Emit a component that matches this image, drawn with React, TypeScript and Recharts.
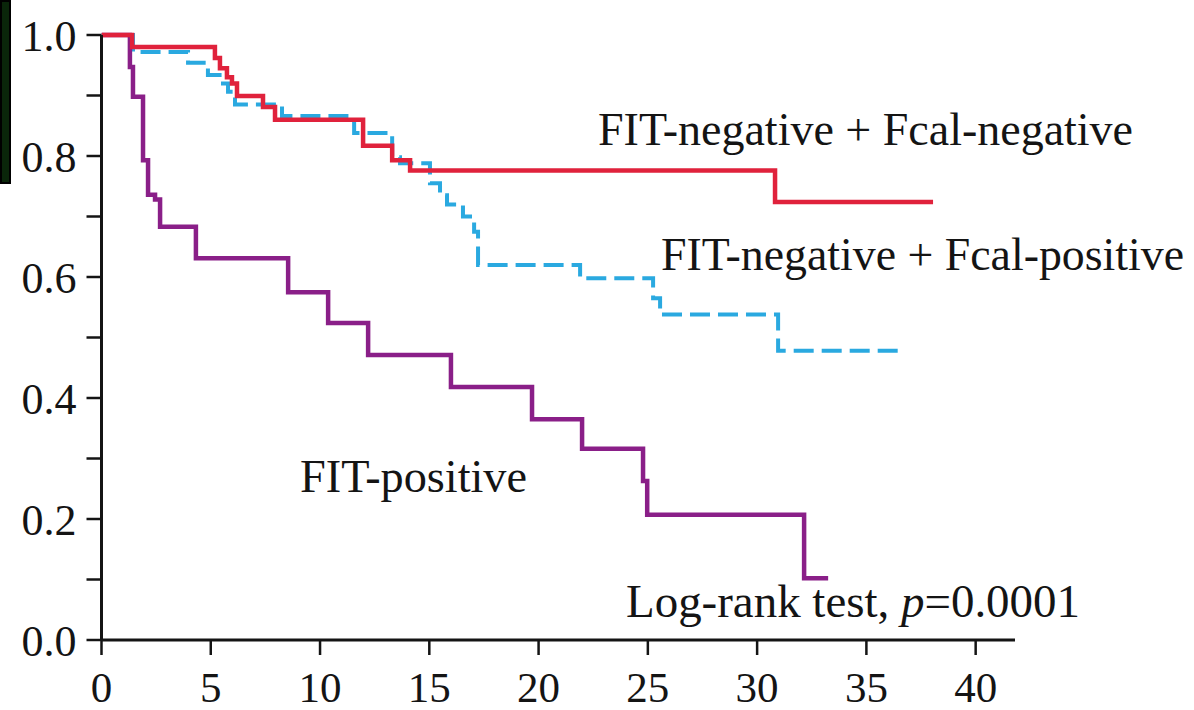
import React from "react";
import { LineChart, Line, XAxis, YAxis, Customized } from "recharts";

// Follow-up time (months) at which each survival step begins, and the survival from that point on
const negNegTimes = [0, 1.4, 5.19, 5.42, 5.74, 5.97, 6.2, 7.39, 7.94, 11.97, 13.3, 14.12, 30.82, 38.05];
const negNegSurv = [1.0, 0.98, 0.962, 0.945, 0.93, 0.92, 0.899, 0.881, 0.86, 0.817, 0.793, 0.776, 0.724, 0.724];

const negPosTimes = [0, 1.44, 3.96, 4.87, 5.56, 5.79, 6.11, 8.26, 11.56, 13.3, 13.66, 15.03, 15.49, 15.81, 16.54, 17.05, 17.23, 21.9, 25.24, 25.56, 30.96, 36.64];
const negPosSurv = [1.0, 0.972, 0.954, 0.934, 0.92, 0.906, 0.885, 0.866, 0.838, 0.798, 0.788, 0.755, 0.735, 0.72, 0.7, 0.675, 0.62, 0.598, 0.565, 0.538, 0.478, 0.478];

const fitPosTimes = [0, 1.3, 1.44, 1.9, 2.13, 2.45, 2.68, 4.32, 8.54, 10.37, 12.2, 15.99, 19.7, 21.99, 24.78, 24.97, 32.15, 33.25];
const fitPosSurv = [1.0, 0.947, 0.898, 0.793, 0.736, 0.728, 0.683, 0.631, 0.575, 0.524, 0.471, 0.418, 0.365, 0.316, 0.263, 0.207, 0.102, 0.102];

const xTicks = [0, 5, 10, 15, 20, 25, 30, 35, 40];
const yTicks = [0, 0.1, 0.2, 0.3, 0.4, 0.5, 0.6, 0.7, 0.8, 0.9, 1.0];

const labelNegNeg = "FIT-negative + Fcal-negative";
const labelNegPos = "FIT-negative + Fcal-positive";
const labelFitPos = "FIT-positive";

const toSeries = (times: number[], surv: number[]) =>
  times.map((t, i) => ({ t, s: surv[i] }));

const negNeg = toSeries(negNegTimes, negNegSurv);
const negPos = toSeries(negPosTimes, negPosSurv);
const fitPos = toSeries(fitPosTimes, fitPosSurv);

const SERIF = '"Liberation Serif", "Times New Roman", serif';
const INK = "#141414";

function Annotations() {
  return (
    <g fontFamily={SERIF} fill={INK}>
      <text x={598} y={145} fontSize={46} textLength={535} lengthAdjust="spacingAndGlyphs">
        {labelNegNeg}
      </text>
      <text x={661} y={270} fontSize={46} textLength={523} lengthAdjust="spacingAndGlyphs">
        {labelNegPos}
      </text>
      <text x={300} y={492} fontSize={46} textLength={227} lengthAdjust="spacingAndGlyphs">
        {labelFitPos}
      </text>
      <text x={626} y={617} fontSize={46} textLength={454} lengthAdjust="spacingAndGlyphs">
        Log-rank test, <tspan fontStyle="italic">p</tspan>=0.0001
      </text>
    </g>
  );
}

export default function App() {
  return (
    <div style={{ position: "absolute", left: 0, top: 0, width: 1194, height: 710, background: "#fff" }}>
      <div
        style={{
          position: "absolute",
          left: 0,
          top: 0,
          width: 11,
          height: 184,
          background: "#0a260a",
          border: "2px solid #000",
          boxSizing: "border-box",
        }}
      />
      <LineChart
        width={1194}
        height={710}
        margin={{ top: 35, right: 179, bottom: 0, left: 0 }}
      >
        <XAxis
          type="number"
          dataKey="t"
          domain={[0, 41.8]}
          ticks={xTicks}
          allowDataOverflow
          height={70}
          tickSize={15}
          tickMargin={16}
          axisLine={{ stroke: INK, strokeWidth: 3 }}
          tickLine={{ stroke: INK, strokeWidth: 2.5 }}
          tick={{ fontSize: 43, fill: INK, fontFamily: SERIF }}
        />
        <YAxis
          type="number"
          domain={[0, 1]}
          ticks={yTicks}
          width={101.5}
          tickSize={15}
          tickMargin={10}
          interval={0}
          tickFormatter={(v: number) => (Math.round(v * 10) % 2 === 0 ? v.toFixed(1) : "")}
          axisLine={{ stroke: INK, strokeWidth: 3 }}
          tickLine={{ stroke: INK, strokeWidth: 2.5 }}
          tick={{ fontSize: 44, fill: INK, fontFamily: SERIF }}
        />
        <Line
          data={negPos}
          dataKey="s"
          type="stepAfter"
          stroke="#2aa9e0"
          strokeWidth={4}
          strokeDasharray="20 8"
          dot={false}
          activeDot={false}
          isAnimationActive={false}
        />
        <Line
          data={fitPos}
          dataKey="s"
          type="stepAfter"
          stroke="#8a1f88"
          strokeWidth={4.5}
          dot={false}
          activeDot={false}
          isAnimationActive={false}
        />
        <Line
          data={negNeg}
          dataKey="s"
          type="stepAfter"
          stroke="#e0223c"
          strokeWidth={4.5}
          dot={false}
          activeDot={false}
          isAnimationActive={false}
        />
        <Customized component={Annotations} />
      </LineChart>
    </div>
  );
}
